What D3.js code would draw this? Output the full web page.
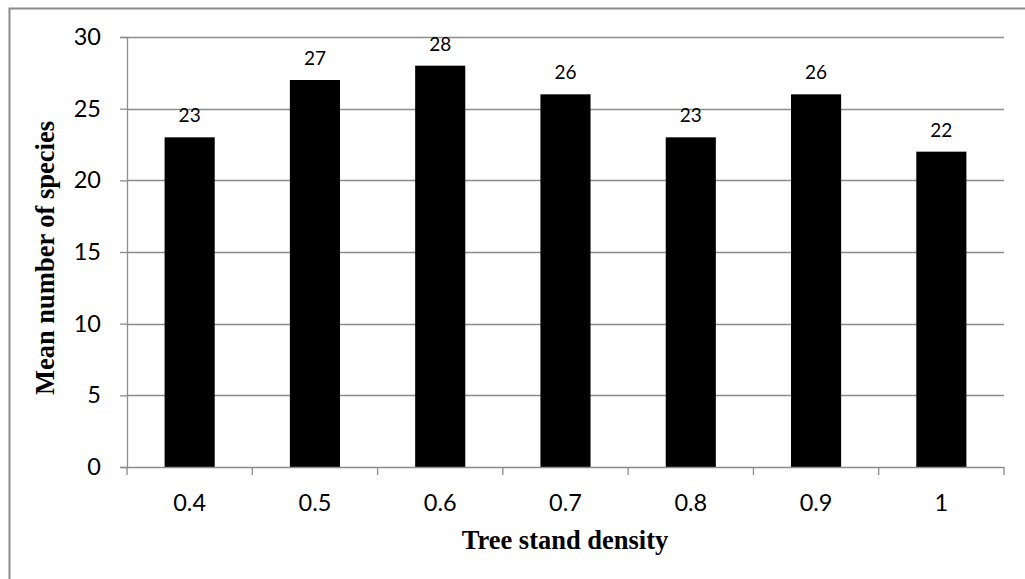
<!DOCTYPE html>
<html>
<head>
<meta charset="utf-8">
<script src="https://cdn.jsdelivr.net/npm/d3@7/dist/d3.min.js"></script>
<style>
  html, body { margin: 0; padding: 0; background: #fff; }
  svg { display: block; }
</style>
</head>
<body>
<svg id="chart" width="1025" height="579"></svg>
<script>
const categories = ["0.4", "0.5", "0.6", "0.7", "0.8", "0.9", "1"];
const values = [23, 27, 28, 26, 23, 26, 22];
const yTicks = [0, 5, 10, 15, 20, 25, 30];
const xTitle = "Tree stand density";
const yTitle = "Mean number of species";

(function () {
const svg = d3.select("#chart");
const pLeft = 127, pRight = 1004, pTop = 37, pBottom = 467;
const gridColor = "#8c8c8c";

// outer border (extends beyond canvas on right/bottom)
svg.append("rect")
  .attr("x", 9.5).attr("y", 8.5)
  .attr("width", 1100).attr("height", 700)
  .attr("fill", "none").attr("stroke", "#8a8a8a").attr("stroke-width", 2);

const x = d3.scaleBand().domain(categories).range([pLeft, pRight]).paddingInner(0.6).paddingOuter(0.3);
const xb = d3.scaleBand().domain(categories).range([pLeft, pRight]).padding(0);
const y = d3.scaleLinear().domain([0, 30]).range([pBottom, pTop]);

// gridlines
svg.append("g").selectAll("line").data(yTicks.filter(d => d > 0)).join("line")
  .attr("x1", pLeft).attr("x2", pRight)
  .attr("y1", d => Math.round(y(d)) + 0.5).attr("y2", d => Math.round(y(d)) + 0.5)
  .attr("stroke", gridColor).attr("stroke-width", 1.3);

// y axis
const yAxis = svg.append("g").attr("transform", `translate(${pLeft},0)`)
  .call(d3.axisLeft(y).tickValues(yTicks).tickSize(7).tickPadding(19).tickFormat(d3.format("d")));
yAxis.select(".domain").attr("stroke", gridColor).attr("stroke-width", 1.3);
yAxis.selectAll(".tick line").attr("stroke", gridColor).attr("stroke-width", 1.3);
yAxis.selectAll(".tick text")
  .attr("font-family", "Lato, 'Open Sans', sans-serif").attr("font-size", 23.5).attr("fill", "#000");

// bars
svg.append("g").selectAll("rect").data(values).join("rect")
  .attr("x", (d, i) => x(categories[i]))
  .attr("width", x.bandwidth())
  .attr("y", d => y(d))
  .attr("height", d => y(0) - y(d))
  .attr("fill", "#000");

// x axis
const boundaries = categories.map(c => xb(c)).concat([pRight]);
const xg = svg.append("g");
xg.append("line").attr("x1", pLeft).attr("x2", pRight)
  .attr("y1", pBottom + 0.5).attr("y2", pBottom + 0.5)
  .attr("stroke", gridColor).attr("stroke-width", 1.3);
xg.selectAll("line.tk").data(boundaries).join("line").attr("class", "tk")
  .attr("x1", d => d).attr("x2", d => d)
  .attr("y1", pBottom).attr("y2", pBottom + 8)
  .attr("stroke", gridColor).attr("stroke-width", 1.3);
xg.selectAll("text").data(categories).join("text")
  .attr("x", d => xb(d) + xb.bandwidth() / 2)
  .attr("y", 511)
  .attr("text-anchor", "middle")
  .attr("font-family", "Lato, 'Open Sans', sans-serif").attr("font-size", 23.5).attr("fill", "#000")
  .text(d => d);

// data labels
svg.append("g").selectAll("text").data(values).join("text")
  .attr("x", (d, i) => x(categories[i]) + x.bandwidth() / 2)
  .attr("y", d => y(d) - 15)
  .attr("text-anchor", "middle")
  .attr("font-family", "Lato, 'Open Sans', sans-serif").attr("font-size", 19).attr("fill", "#000")
  .text(d => d);

// axis titles
svg.append("text")
  .attr("x", 565).attr("y", 549)
  .attr("text-anchor", "middle")
  .attr("font-family", "'Liberation Serif', 'Times New Roman', serif")
  .attr("font-weight", "bold").attr("font-size", 26.5).attr("fill", "#000")
  .text(xTitle);

svg.append("text")
  .attr("transform", "translate(54,258) rotate(-90)")
  .attr("text-anchor", "middle")
  .attr("font-family", "'Liberation Serif', 'Times New Roman', serif")
  .attr("font-weight", "bold").attr("font-size", 26.5).attr("fill", "#000")
  .text(yTitle);
})();
</script>
</body>
</html>
